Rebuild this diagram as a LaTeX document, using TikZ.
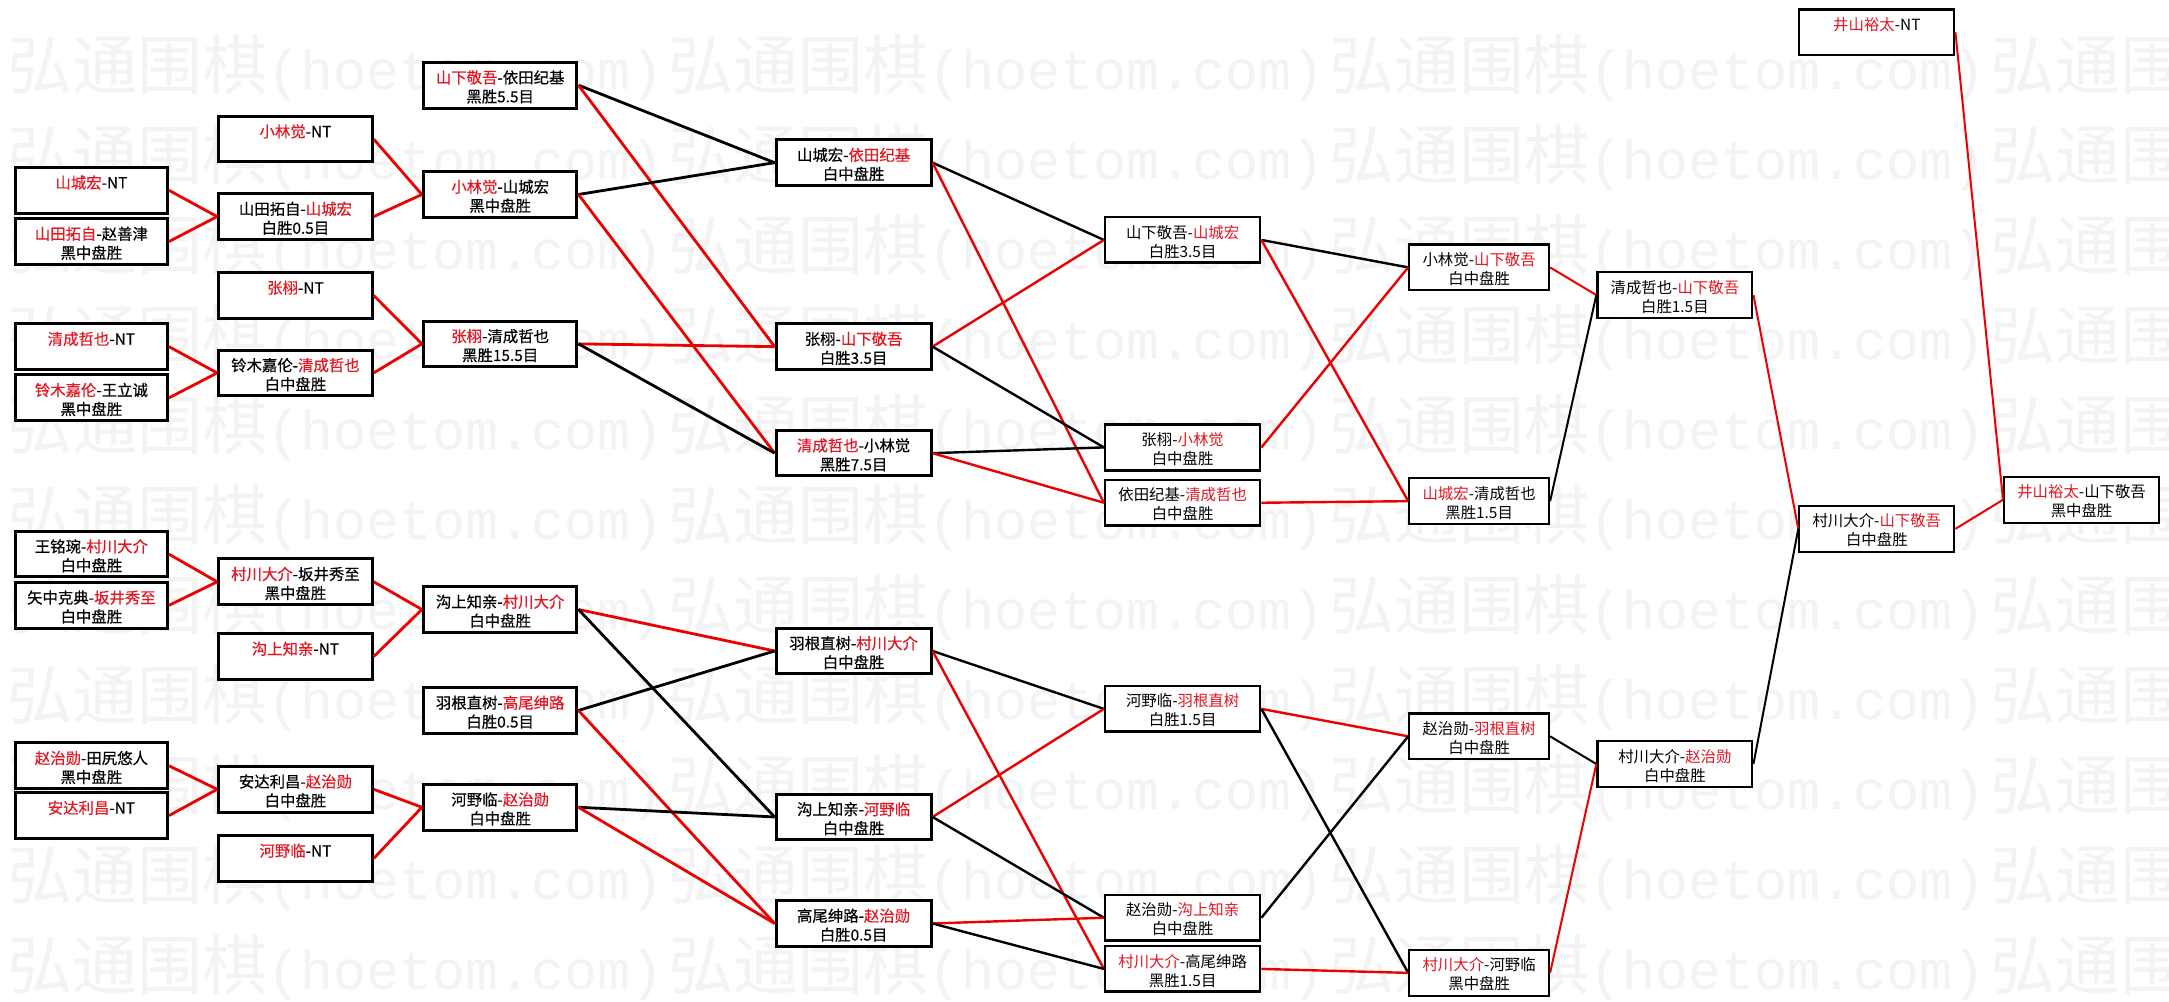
\documentclass[tikz,border=0pt]{standalone}
\usepackage{fontspec}
\setmainfont{Noto Sans CJK SC}
\newfontfamily\wmcjk{Noto Sans CJK SC}
\newfontfamily\wmlat{Liberation Mono}
\newfontfamily\boldcjk[FakeBold=0.4]{Noto Sans CJK SC}
\definecolor{tred}{RGB}{228,22,34}
\definecolor{lred}{RGB}{238,0,0}
\definecolor{wmgray}{RGB}{243,243,243}
\newcommand\rd[1]{\textcolor{tred}{#1}}
\newcommand\tl[2]{\rule{0pt}{9pt}#1\\#2\rule[-1.4pt]{0pt}{1.4pt}}
\begin{document}
\begin{tikzpicture}[x=0.6917pt,y=-0.6917pt,
  bx/.style={draw,fill=white,rectangle,anchor=north west,inner sep=0pt,minimum height=22.83pt,align=center},
  colL/.style={bx,line width=1.5pt,font=\boldcjk\fontsize{7.7}{9.5}\selectfont},
  colM/.style={bx,line width=1.3pt,font=\fontsize{7.7}{9.5}\selectfont},
  colR/.style={bx,line width=1.1pt,font=\fontsize{7.7}{9.5}\selectfont},
  wA/.style={minimum width=76.09pt},
  wB/.style={minimum width=76.78pt},
  wD/.style={minimum width=77.47pt},
  wF/.style={minimum width=69.86pt},
  redA/.style={draw=lred,line width=1.4pt},
  blkA/.style={draw=black,line width=1.4pt},
  redB/.style={draw=lred,line width=1.2pt},
  blkB/.style={draw=black,line width=1.2pt},
  redC/.style={draw=lred,line width=1.0pt},
  blkC/.style={draw=black,line width=1.0pt},
  wm/.style={anchor=base west,inner sep=0pt,text=wmgray}
]
\useasboundingbox (0,0) rectangle (1568,724);
\fill[white] (0,0) rectangle (1568,724);
% watermark
\begin{scope}
\clip (0,0) rectangle (1568,724);
\foreach \k in {0,...,10}{
  \foreach \j in {0,...,3}{
    \node[wm] (wm-\k-\j) at ({5+478*\j},{65+65.06*\k})
      {{\wmcjk\fontsize{32.5}{32.5}\selectfont 弘通围棋}{\wmlat\fontsize{27.5}{27.5}\selectfont (hoetom.com)}};
  }
}
\end{scope}
% column A
\node[colL,wA] (A1) at (10,120) {\tl{\rd{山城宏}-NT}{}};
\node[colL,wA] (A2) at (10,157) {\tl{\rd{山田拓自}-赵善津}{黑中盘胜}};
\node[colL,wA] (A3) at (10,233) {\tl{\rd{清成哲也}-NT}{}};
\node[colL,wA] (A4) at (10,270) {\tl{\rd{铃木嘉伦}-王立诚}{黑中盘胜}};
\node[colL,wA] (A5) at (10,383) {\tl{王铭琬-\rd{村川大介}}{白中盘胜}};
\node[colL,wA] (A6) at (10,420) {\tl{矢中克典-\rd{坂井秀至}}{白中盘胜}};
\node[colL,wA] (A7) at (10,536) {\tl{\rd{赵治勋}-田尻悠人}{黑中盘胜}};
\node[colL,wA] (A8) at (10,572) {\tl{\rd{安达利昌}-NT}{}};
% column B
\node[colL,wB] (B1) at (157,83) {\tl{\rd{小林觉}-NT}{}};
\node[colL,wB] (B2) at (157,139) {\tl{山田拓自-\rd{山城宏}}{白胜0.5目}};
\node[colL,wB] (B3) at (157,196) {\tl{\rd{张栩}-NT}{}};
\node[colL,wB] (B4) at (157,252) {\tl{铃木嘉伦-\rd{清成哲也}}{白中盘胜}};
\node[colL,wB] (B5) at (157,403) {\tl{\rd{村川大介}-坂井秀至}{黑中盘胜}};
\node[colL,wB] (B6) at (157,457) {\tl{\rd{沟上知亲}-NT}{}};
\node[colL,wB] (B7) at (157,553) {\tl{安达利昌-\rd{赵治勋}}{白中盘胜}};
\node[colL,wB] (B8) at (157,603) {\tl{\rd{河野临}-NT}{}};
% column C
\node[colL,wB] (C1) at (305,44) {\tl{\rd{山下敬吾}-依田纪基}{黑胜5.5目}};
\node[colL,wB] (C2) at (305,123) {\tl{\rd{小林觉}-山城宏}{黑中盘胜}};
\node[colL,wB] (C3) at (305,231) {\tl{\rd{张栩}-清成哲也}{黑胜15.5目}};
\node[colL,wB] (C4) at (305,423) {\tl{沟上知亲-\rd{村川大介}}{白中盘胜}};
\node[colL,wB] (C5) at (305,496) {\tl{羽根直树-\rd{高尾绅路}}{白胜0.5目}};
\node[colL,wB] (C6) at (305,566) {\tl{河野临-\rd{赵治勋}}{白中盘胜}};
% column D
\node[colL,wD] (D1) at (560,100) {\tl{山城宏-\rd{依田纪基}}{白中盘胜}};
\node[colL,wD] (D2) at (560,233) {\tl{张栩-\rd{山下敬吾}}{白胜3.5目}};
\node[colL,wD] (D3) at (560,310) {\tl{\rd{清成哲也}-小林觉}{黑胜7.5目}};
\node[colL,wD] (D4) at (560,453) {\tl{羽根直树-\rd{村川大介}}{白中盘胜}};
\node[colL,wD] (D5) at (560,573) {\tl{沟上知亲-\rd{河野临}}{白中盘胜}};
\node[colL,wD] (D6) at (560,650) {\tl{高尾绅路-\rd{赵治勋}}{白胜0.5目}};
% column E
\node[colM,wD] (E1) at (798,156) {\tl{山下敬吾-\rd{山城宏}}{白胜3.5目}};
\node[colM,wD] (E2) at (798,306) {\tl{张栩-\rd{小林觉}}{白中盘胜}};
\node[colM,wD] (E3) at (798,346) {\tl{依田纪基-\rd{清成哲也}}{白中盘胜}};
\node[colM,wD] (E4) at (798,495) {\tl{河野临-\rd{羽根直树}}{白胜1.5目}};
\node[colM,wD] (E5) at (798,646) {\tl{赵治勋-\rd{沟上知亲}}{白中盘胜}};
\node[colM,wD] (E6) at (798,683) {\tl{\rd{村川大介}-高尾绅路}{黑胜1.5目}};
% column F
\node[colR,wF] (F1) at (1018,176) {\tl{小林觉-\rd{山下敬吾}}{白中盘胜}};
\node[colR,wF] (F2) at (1018,345) {\tl{\rd{山城宏}-清成哲也}{黑胜1.5目}};
\node[colR,wF] (F3) at (1018,515) {\tl{赵治勋-\rd{羽根直树}}{白中盘胜}};
\node[colR,wF] (F4) at (1018,686) {\tl{\rd{村川大介}-河野临}{黑中盘胜}};
% column G
\node[colR,wD] (G1) at (1154,196) {\tl{清成哲也-\rd{山下敬吾}}{白胜1.5目}};
\node[colR,wD] (G2) at (1154,535) {\tl{村川大介-\rd{赵治勋}}{白中盘胜}};
% column H
\node[colR,wD] (H0) at (1300,6) {\tl{\rd{井山裕太}-NT}{}};
\node[colR,wD] (H1) at (1300,365) {\tl{村川大介-\rd{山下敬吾}}{白中盘胜}};
% column I
\node[colR,wD] (I1) at (1448,344) {\tl{\rd{井山裕太}-山下敬吾}{黑中盘胜}};
% connectors A -> B
\draw[redA] (A1.east) -- (B2.west);
\draw[redA] (A2.east) -- (B2.west);
\draw[redA] (A3.east) -- (B4.west);
\draw[redA] (A4.east) -- (B4.west);
\draw[redA] (A5.east) -- (B5.west);
\draw[redA] (A6.east) -- (B5.west);
\draw[redA] (A7.east) -- (B7.west);
\draw[redA] (A8.east) -- (B7.west);
% B -> C
\draw[redA] (B1.east) -- (C2.west);
\draw[redA] (B2.east) -- (C2.west);
\draw[redA] (B3.east) -- (C3.west);
\draw[redA] (B4.east) -- (C3.west);
\draw[redA] (B5.east) -- (C4.west);
\draw[redA] (B6.east) -- (C4.west);
\draw[redA] (B7.east) -- (C6.west);
\draw[redA] (B8.east) -- (C6.west);
% C -> D
\draw[blkA] (C1.east) -- (D1.west);
\draw[redA] (C1.east) -- (D2.west);
\draw[blkA] (C2.east) -- (D1.west);
\draw[redA] (C2.east) -- (D3.west);
\draw[redA] (C3.east) -- (D2.west);
\draw[blkA] (C3.east) -- (D3.west);
\draw[redA] (C4.east) -- (D4.west);
\draw[blkA] (C4.east) -- (D5.west);
\draw[blkA] (C5.east) -- (D4.west);
\draw[redA] (C5.east) -- (D6.west);
\draw[blkA] (C6.east) -- (D5.west);
\draw[redA] (C6.east) -- (D6.west);
% D -> E
\draw[blkB] (D1.east) -- (E1.west);
\draw[redB] (D1.east) -- (E3.west);
\draw[redB] (D2.east) -- (E1.west);
\draw[blkB] (D2.east) -- (E2.west);
\draw[blkB] (D3.east) -- (E2.west);
\draw[redB] (D3.east) -- (E3.west);
\draw[blkB] (D4.east) -- (E4.west);
\draw[redB] (D4.east) -- (E6.west);
\draw[redB] (D5.east) -- (E4.west);
\draw[blkB] (D5.east) -- (E5.west);
\draw[redB] (D6.east) -- (E5.west);
\draw[blkB] (D6.east) -- (E6.west);
% E -> F
\draw[blkB] (E1.east) -- (F1.west);
\draw[redB] (E1.east) -- (F2.west);
\draw[redB] (E2.east) -- (F1.west);
\draw[redB] (E3.east) -- (F2.west);
\draw[redB] (E4.east) -- (F3.west);
\draw[blkB] (E4.east) -- (F4.west);
\draw[blkB] (E5.east) -- (F3.west);
\draw[redB] (E6.east) -- (F4.west);
% F -> G
\draw[redC] (F1.east) -- (G1.west);
\draw[blkC] (F2.east) -- (G1.west);
\draw[blkC] (F3.east) -- (G2.west);
\draw[redC] (F4.east) -- (G2.west);
% G -> H
\draw[redC] (G1.east) -- (H1.west);
\draw[blkC] (G2.east) -- (H1.west);
% H -> I
\draw[redC] (H0.east) -- (I1.west);
\draw[redC] (H1.east) -- (I1.west);
\end{tikzpicture}
\end{document}
